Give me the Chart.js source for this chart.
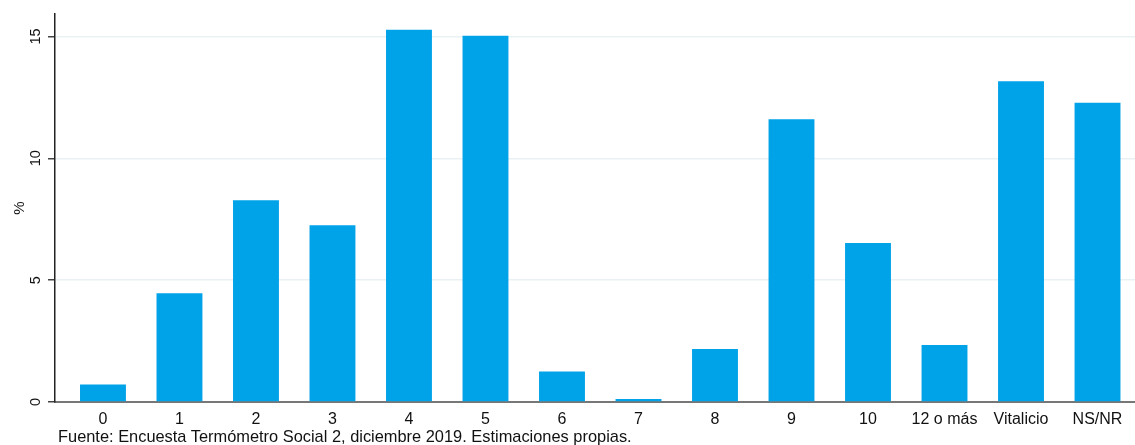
<!DOCTYPE html>
<html>
<head>
<meta charset="utf-8">
<script src="https://cdn.jsdelivr.net/npm/chart.js@4.4.1/dist/chart.umd.min.js"></script>
<style>
  html, body { margin: 0; padding: 0; background: #fff; }
  #wrap { position: relative; width: 1135px; height: 445px; }
  #box { position: absolute; left: 0; top: 0; width: 1135px; height: 428px; }
  #fuente { position: absolute; left: 58px; top: 427px; font: 16.4px "Liberation Sans", Arial, sans-serif; color: #111; white-space: nowrap; }
</style>
</head>
<body>
<div id="wrap">
  <div id="box"><canvas id="chart"></canvas></div>
  <div id="fuente">Fuente: Encuesta Termómetro Social 2, diciembre 2019. Estimaciones propias.</div>
</div>
<script>
// ── DATOS ─────────────────────────────────────────────
const categorias = ['0', '1', '2', '3', '4', '5', '6', '7', '8', '9', '10', '12 o más', 'Vitalicio', 'NS/NR'];
const porcentajes = [0.72, 4.46, 8.28, 7.25, 15.27, 15.03, 1.25, 0.12, 2.17, 11.6, 6.52, 2.34, 13.16, 12.28];
const ticksY = [0, 5, 10, 15];

const FONT = '"Liberation Sans", Arial, sans-serif';

// etiquetas del eje Y giradas (se dibujan con la escala de Chart.js)
const yLabels = {
    id: 'yLabels',
    afterDraw(chart) {
        const ctx = chart.ctx, sy = chart.scales.y;
        ctx.save();
        ctx.font = '14.5px ' + FONT;
        ctx.fillStyle = '#111';
        ctx.textAlign = 'center';
        ctx.textBaseline = 'middle';
        ticksY.forEach(v => {
            ctx.save();
            ctx.translate(36, sy.getPixelForValue(v));
            ctx.rotate(-Math.PI / 2);
            ctx.fillText(String(v), 0, 0);
            ctx.restore();
        });
        ctx.restore();
    }
};

new Chart(document.getElementById('chart'), {
    type: 'bar',
    data: {
        datasets: [{
            data: porcentajes.map((v, i) => ({ x: i, y: v })),
            backgroundColor: '#00a2e8',
            borderWidth: 0,
            barPercentage: 0.6,
            categoryPercentage: 1
        }]
    },
    options: {
        responsive: true,
        maintainAspectRatio: false,
        animation: false,
        layout: { padding: { top: 14, right: 0, left: 0, bottom: 0 } },
        plugins: { legend: { display: false }, tooltip: { enabled: false } },
        scales: {
            x: {
                type: 'linear',
                offset: false,
                min: -0.627,
                max: 13.49,
                afterBuildTicks: s => { s.ticks = categorias.map((c, i) => ({ value: i })); },
                afterFit: s => { s.height = 26; s.paddingLeft = 0; s.paddingRight = 0; },
                grid: { display: false },
                border: { display: true, color: '#777', width: 2 },
                ticks: {
                    autoSkip: false,
                    maxRotation: 0,
                    padding: 0,
                    color: '#111',
                    font: { family: FONT, size: 16 },
                    callback: v => categorias[v]
                }
            },
            y: {
                min: 0,
                max: 15.92,
                afterBuildTicks: s => { s.ticks = ticksY.map(v => ({ value: v })); },
                afterFit: s => { s.width = 55; },
                grid: { color: '#eaf1f4', lineWidth: 1.5, tickColor: '#444', tickLength: 7, drawOnChartArea: true },
                border: { display: true, color: '#222', width: 1.5 },
                ticks: { display: false },
                title: {
                    display: true,
                    text: '%',
                    color: '#111',
                    font: { family: FONT, size: 15 },
                    padding: { top: 11, bottom: 0 }
                }
            }
        }
    },
    plugins: [yLabels]
});
</script>
</body>
</html>
